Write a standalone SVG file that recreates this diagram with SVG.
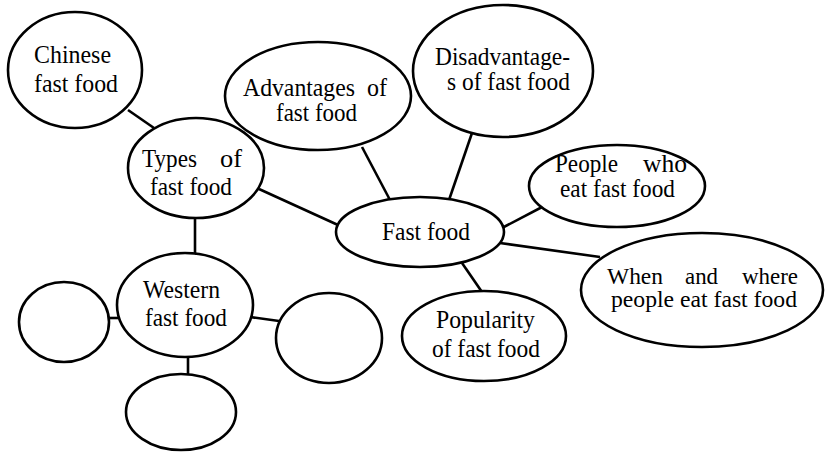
<svg xmlns="http://www.w3.org/2000/svg" width="825" height="452" viewBox="0 0 825 452">
<style>
.n{fill:#fff;stroke:#000;stroke-width:2.6}
.c line{stroke:#000;stroke-width:2.6}
text{font-family:"Liberation Serif","Tinos","Times New Roman","DejaVu Serif",serif;font-size:25px;fill:#000}
.ww{font-size:23px}
</style>
<rect width="825" height="452" fill="#fff"/>
<g class="c" id="connectors">
<line x1="128" y1="110" x2="154" y2="128"/>
<line x1="259" y1="189" x2="338" y2="225"/>
<line x1="362" y1="147" x2="390" y2="200"/>
<line x1="472" y1="133" x2="449" y2="200"/>
<line x1="544" y1="206" x2="502" y2="228"/>
<line x1="500" y1="243" x2="600" y2="257"/>
<line x1="462" y1="263" x2="482" y2="292"/>
<line x1="195" y1="218" x2="195" y2="255"/>
<line x1="108" y1="318" x2="119" y2="318"/>
<line x1="250" y1="317" x2="279" y2="321"/>
<line x1="188" y1="356" x2="188" y2="375"/>
</g>
<g id="chinese"><ellipse class="n" cx="75" cy="70" rx="67" ry="58"/>
<text x="34" y="63" textLength="77" lengthAdjust="spacingAndGlyphs">Chinese</text>
<text x="34" y="92" textLength="84" lengthAdjust="spacingAndGlyphs">fast food</text></g>
<g id="types"><ellipse class="n" cx="196" cy="168" rx="68" ry="50"/>
<text y="167"><tspan x="142" textLength="55" lengthAdjust="spacingAndGlyphs">Types</tspan> <tspan x="220" textLength="22" lengthAdjust="spacingAndGlyphs">of</tspan></text>
<text x="150" y="195" textLength="82" lengthAdjust="spacingAndGlyphs">fast food</text></g>
<g id="advantages"><ellipse class="n" cx="318" cy="96" rx="93" ry="54"/>
<text y="96"><tspan x="243" textLength="112" lengthAdjust="spacingAndGlyphs">Advantages</tspan> <tspan x="367" textLength="20" lengthAdjust="spacingAndGlyphs">of</tspan></text>
<text x="276" y="121" textLength="81" lengthAdjust="spacingAndGlyphs">fast food</text></g>
<g id="disadvantages"><ellipse class="n" cx="503" cy="71" rx="90" ry="66"/>
<text x="435" y="65" textLength="135" lengthAdjust="spacingAndGlyphs">Disadvantage-</text>
<text x="447" y="90" textLength="123" lengthAdjust="spacingAndGlyphs">s of fast food</text></g>
<g id="people"><ellipse class="n" cx="617" cy="186" rx="88" ry="41"/>
<text y="172"><tspan x="555" textLength="63" lengthAdjust="spacingAndGlyphs">People</tspan> <tspan x="643" textLength="44" lengthAdjust="spacingAndGlyphs">who</tspan></text>
<text x="560" y="197" textLength="115" lengthAdjust="spacingAndGlyphs">eat fast food</text></g>
<g id="whenwhere"><ellipse class="n" cx="702" cy="290" rx="121" ry="57"/>
<text class="ww" y="284"><tspan x="607" textLength="56" lengthAdjust="spacingAndGlyphs">When</tspan> <tspan x="685" textLength="33" lengthAdjust="spacingAndGlyphs">and</tspan> <tspan x="742" textLength="56" lengthAdjust="spacingAndGlyphs">where</tspan></text>
<text class="ww" x="611" y="307" textLength="186" lengthAdjust="spacingAndGlyphs">people eat fast food</text></g>
<g id="fastfood"><ellipse class="n" cx="420" cy="232" rx="84" ry="35"/>
<text x="382" y="240" textLength="88" lengthAdjust="spacingAndGlyphs">Fast food</text></g>
<g id="popularity"><ellipse class="n" cx="484" cy="336" rx="82" ry="45"/>
<text x="436" y="328" textLength="99" lengthAdjust="spacingAndGlyphs">Popularity</text>
<text x="432" y="357" textLength="108" lengthAdjust="spacingAndGlyphs">of fast food</text></g>
<g id="western"><ellipse class="n" cx="185" cy="305" rx="68" ry="52"/>
<text x="143" y="298" textLength="77" lengthAdjust="spacingAndGlyphs">Western</text>
<text x="145" y="326" textLength="82" lengthAdjust="spacingAndGlyphs">fast food</text></g>
<g id="empty-left"><ellipse class="n" cx="64" cy="322" rx="45" ry="40"/></g>
<g id="empty-right"><ellipse class="n" cx="329" cy="338" rx="53" ry="45"/></g>
<g id="empty-bottom"><ellipse class="n" cx="181" cy="412" rx="55" ry="38"/></g>
</svg>
